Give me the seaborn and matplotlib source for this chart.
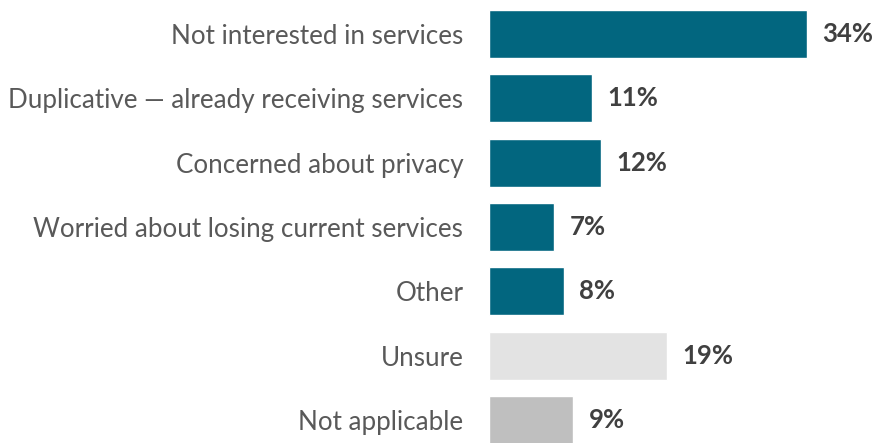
import matplotlib
matplotlib.use("Agg")
import matplotlib.pyplot as plt
import seaborn as sns
import pandas as pd

categories = [
    "Not interested in services",
    "Duplicative \u2014 already receiving services",
    "Concerned about privacy",
    "Worried about losing current services",
    "Other",
    "Unsure",
    "Not applicable",
]
values = [34, 11, 12, 7, 8, 19, 9]
bar_colors = ["#02667f", "#02667f", "#02667f", "#02667f", "#02667f", "#e3e3e3", "#bfbfbf"]

df = pd.DataFrame({"reason": categories, "pct": values})

sns.set_theme(style="white")
plt.rcParams["font.family"] = ["Lato", "DejaVu Sans"]

fig = plt.figure(figsize=(8.72, 4.43), dpi=100)
ax = fig.add_axes([489 / 872, 0.0, 1 - 489 / 872, 1.0])

sns.barplot(data=df, x="pct", y="reason", hue="reason", palette=bar_colors,
            legend=False, width=0.75, ax=ax, saturation=1)

ax.set_xlim(0, 34 * 383 / 318)
ax.set_ylim(6.358, -0.529)
ax.set_xlabel("")
ax.set_ylabel("")
ax.set_xticks([])
for s in ax.spines.values():
    s.set_visible(False)
ax.tick_params(axis="y", length=0, pad=18.5, labelsize=18.7, labelcolor="#595959")

for i, v in enumerate(values):
    ax.annotate(f"{v}%", xy=(v, i), xytext=(11, 0), textcoords="offset points",
                ha="left", va="center", fontsize=18.5, fontweight="bold", color="#404040")

fig.savefig("out.png", dpi=100)
